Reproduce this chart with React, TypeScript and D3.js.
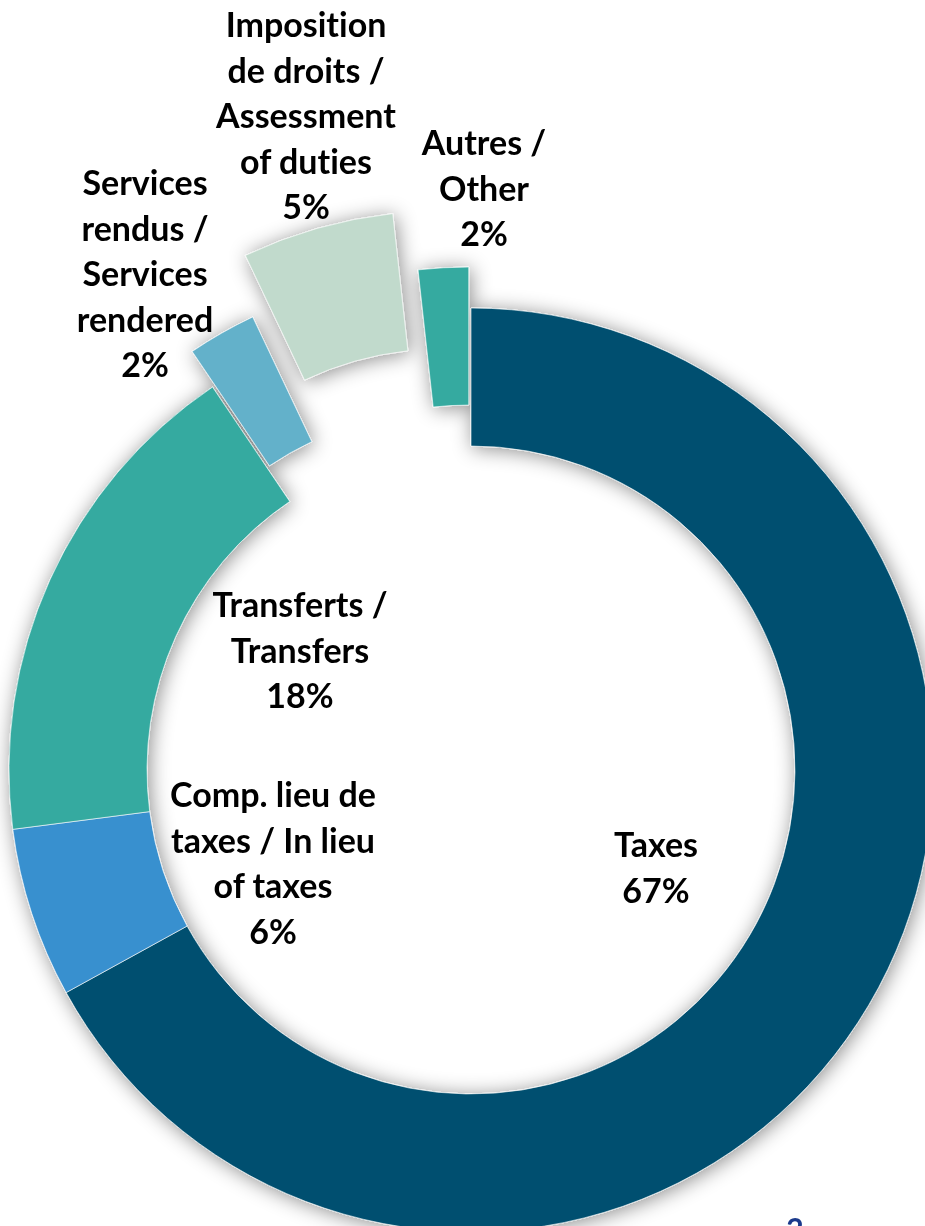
import React from "react";
import * as d3 from "d3";

// ---- data ----
const categories = [
  "Taxes",
  "Comp. lieu de taxes / In lieu of taxes",
  "Transferts / Transfers",
  "Services rendus / Services rendered",
  "Imposition de droits / Assessment of duties",
  "Autres / Other",
];
const values = [67.0, 5.95, 17.6, 2.4, 5.3, 1.75];
const labelLines = [
  ["Taxes"],
  ["Comp. lieu de", "taxes / In lieu", "of taxes"],
  ["Transferts /", "Transfers"],
  ["Services", "rendus /", "Services", "rendered"],
  ["Imposition", "de droits /", "Assessment", "of duties"],
  ["Autres /", "Other"],
];
const pageNumber = "2";

// ---- layout / style ----
const W = 925;
const H = 1226;
const CX = 471;
const CY = 770;
const R_OUT = 462;
const R_IN = 324;
const colors = ["#02506F", "#3890CF", "#35AAA0", "#64B1CA", "#C1DACC", "#35AAA0"];
const explode = [0, 0, 0, 41, 101, 41];
const labelAnchor = [
  { x: 656, y: 857 },
  { x: 273, y: 807 },
  { x: 300, y: 617 },
  { x: 145, y: 195 },
  { x: 306, y: 37 },
  { x: 484, y: 155 },
];
const LINE_H = 45.5;
const FONT = "Lato, 'Noto Sans', sans-serif";
const FONT_SIZE = 34;

export default function App() {
  const pie = d3
    .pie<number>()
    .sort(null)
    .value((d) => d)
    .startAngle(0)
    .endAngle(2 * Math.PI);
  const arcs = pie(values);
  const arc = d3.arc<d3.PieArcDatum<number>>().innerRadius(R_IN).outerRadius(R_OUT);

  return (
    <svg
      width={W}
      height={H}
      viewBox={`0 0 ${W} ${H}`}
      style={{ position: "absolute", left: 0, top: 0, display: "block", background: "#fff" }}
    >
      <defs>
        <filter id="glow" x="-20%" y="-20%" width="140%" height="140%">
          <feDropShadow dx="2" dy="2" stdDeviation="10" floodColor="#000" floodOpacity="0.45" />
        </filter>
      </defs>
      <g transform={`translate(${CX},${CY})`} filter="url(#glow)">
        {arcs.map((a, i) => {
          const mid = (a.startAngle + a.endAngle) / 2;
          const dx = Math.sin(mid) * explode[i];
          const dy = -Math.cos(mid) * explode[i];
          return (
            <path
              key={categories[i]}
              d={arc(a) || ""}
              transform={`translate(${dx},${dy})`}
              fill={colors[i]}
              stroke="#ffffff"
              strokeWidth={0.6}
            />
          );
        })}
      </g>
      <g
        fontFamily={FONT}
        fontWeight={700}
        fontSize={FONT_SIZE}
        fill="#000"
        textAnchor="middle"
        style={{ fontVariantLigatures: "none", fontFeatureSettings: "'liga' 0, 'clig' 0" }}
      >
        {arcs.map((a, i) => {
          const lines = [...labelLines[i], `${Math.round(values[i])}%`];
          const p = labelAnchor[i];
          return (
            <text key={categories[i]} x={p.x} y={p.y}>
              {lines.map((ln, j) => (
                <tspan key={j} x={p.x} y={p.y + j * LINE_H}>
                  {ln}
                </tspan>
              ))}
            </text>
          );
        })}
      </g>
      <text
        x={795}
        y={1240}
        textAnchor="middle"
        fontFamily={FONT}
        fontWeight={700}
        fontSize={30}
        fill="#1B3A8C"
      >
        {pageNumber}
      </text>
    </svg>
  );
}
